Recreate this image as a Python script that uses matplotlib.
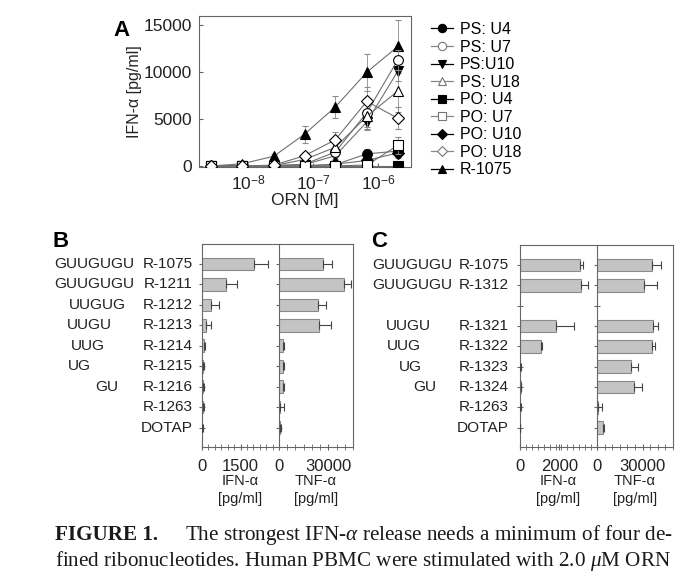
import numpy as np
import matplotlib
matplotlib.use("Agg")
import matplotlib.pyplot as plt
from matplotlib.lines import Line2D
from matplotlib.ticker import MultipleLocator, FixedLocator, NullLocator

plt.rcParams['font.family'] = ['Liberation Sans', 'DejaVu Sans']
plt.rcParams['mathtext.fontset'] = 'custom'
plt.rcParams['mathtext.rm'] = 'Liberation Sans'
plt.rcParams['mathtext.it'] = 'Liberation Serif:italic'
plt.rcParams['mathtext.bf'] = 'Liberation Sans:bold'

W, H = 699, 579

# ---- panel A data (IFN-alpha vs ORN concentration) ----
conc = [2.7e-9, 8.2e-9, 2.5e-8, 7.4e-8, 2.2e-7, 6.7e-7, 2.0e-6]
names = ['PS: U4', 'PS: U7', 'PS:U10', 'PS: U18', 'PO: U4', 'PO: U7',
         'PO: U10', 'PO: U18', 'R-1075']
ps_u4 = [0, 0, 0, 30, 150, 1300, 1600]
ps_u4_err = [0, 0, 0, 30, 100, 500, 600]
ps_u7 = [0, 0, 50, 200, 1500, 5700, 11300]
ps_u7_err = [0, 0, 30, 100, 500, 1500, 1100]
ps_u10 = [0, 0, 30, 150, 1100, 4700, 10100]
ps_u10_err = [0, 0, 20, 100, 400, 900, 1000]
ps_u18 = [0, 0, 50, 700, 2000, 5300, 8000]
ps_u18_err = [0, 0, 30, 300, 600, 1400, 2200]
po_u4 = [0, 0, 0, 0, 0, 0, 0]
po_u4_err = [0, 0, 0, 0, 0, 0, 0]
po_u7 = [0, 0, 0, 0, 30, 100, 2200]
po_u7_err = [0, 0, 0, 0, 30, 80, 900]
po_u10 = [0, 0, 0, 30, 200, 600, 1400]
po_u10_err = [0, 0, 0, 20, 100, 300, 500]
po_u18 = [0, 0, 100, 1100, 2800, 6900, 5100]
po_u18_err = [0, 0, 50, 400, 800, 1500, 1200]
r1075 = [0, 250, 1050, 3400, 6300, 10000, 12750]
r1075_err = [50, 100, 200, 900, 1200, 2000, 2800]

series = [ps_u4, ps_u7, ps_u10, ps_u18, po_u4, po_u7, po_u10, po_u18, r1075]
errs = [ps_u4_err, ps_u7_err, ps_u10_err, ps_u18_err, po_u4_err, po_u7_err,
        po_u10_err, po_u18_err, r1075_err]
markers = ['o', 'o', 'v', '^', 's', 's', 'D', 'D', '^']
filled = [True, False, True, False, True, False, True, False, True]

# ---- panel B data ----
seq_b = ['GUUGUGU', 'GUUGUGU', 'UUGUG', 'UUGU', 'UUG', 'UG', 'GU', '', '']
ids_b = ['R-1075', 'R-1211', 'R-1212', 'R-1213', 'R-1214', 'R-1215',
         'R-1216', 'R-1263', 'DOTAP']
ifn_b = [2030, 950, 360, 170, 60, 40, 40, 30, 10]
ifn_b_err = [540, 420, 300, 170, 60, 50, 50, 50, 20]
tnf_b = [26800, 39500, 23700, 24300, 2300, 2300, 2300, 800, 800]
tnf_b_err = [5500, 4500, 4700, 7100, 800, 800, 800, 2300, 300]

# ---- panel C data (blank slot between R-1312 and R-1321) ----
seq_c = ['GUUGUGU', 'GUUGUGU', '', 'UUGU', 'UUG', 'UG', 'GU', '', '']
ids_c = ['R-1075', 'R-1312', '', 'R-1321', 'R-1322', 'R-1323', 'R-1324',
         'R-1263', 'DOTAP']
ifn_c = [3050, 3100, np.nan, 1820, 1070, 20, 30, 20, 10]
ifn_c_err = [130, 320, np.nan, 900, 30, 10, 20, 30, 10]
tnf_c = [36300, 31000, np.nan, 37000, 36500, 22400, 24300, 900, 3900]
tnf_c_err = [6000, 8700, np.nan, 3300, 1500, 4800, 5400, 2200, 500]


def box(l, t, r, b):
    return [l / W, 1 - b / H, (r - l) / W, (b - t) / H]


def ftext(x, y, s, **kw):
    fig.text(x / W, 1 - y / H, s, **kw)


fig = plt.figure(figsize=(W / 100, H / 100), dpi=100)
spine_col = '#666666'
txt_col = '#222222'

# ================= panel A =================
ax = fig.add_axes(box(199, 16, 411, 167))
for i in range(len(series)):
    fc = 'black' if filled[i] else 'white'
    ms = 6 if markers[i] == 'D' else 7
    ax.errorbar(conc, series[i], yerr=errs[i], color='#707070', lw=0.8,
                elinewidth=0.6, ecolor='#8a8a8a', capsize=2,
                marker=markers[i], ms=ms, mfc=fc, mec='black', mew=0.8,
                zorder=3 if filled[i] else 4)
ax.set_xscale('log')
ax.set_xlim(1.77e-9, 3.2e-6)
ax.set_ylim(-100, 16000)
ax.xaxis.set_major_locator(FixedLocator([1e-8, 1e-7, 1e-6]))
ax.xaxis.set_minor_locator(NullLocator())
ax.set_xticklabels(['$10^{-8}$', '$10^{-7}$', '$10^{-6}$'])
ax.set_yticks([0, 5000, 10000, 15000])
ax.tick_params(labelsize=12.5, direction='in', length=3, color=spine_col,
               labelcolor=txt_col, pad=5)
for s in ax.spines.values():
    s.set_color(spine_col)
    s.set_linewidth(0.8)
ax.set_ylabel('IFN-α [pg/ml]', fontsize=11.5, color=txt_col, labelpad=1)
ax.set_xlabel('ORN [M]', fontsize=12.5, color=txt_col, labelpad=0)
ftext(113, 36, 'A', fontsize=16, fontweight='bold')

handles = []
for i in range(len(series)):
    fc = 'black' if filled[i] else 'white'
    lc = 'black' if filled[i] else '#888888'
    handles.append(Line2D([], [], color=lc, lw=0.9, marker=markers[i],
                          ms=6 if markers[i] != 'D' else 5, mfc=fc,
                          mec='black' if filled[i] else '#777777', mew=0.8))
fig.legend(handles, names, loc='upper left', bbox_to_anchor=(431 / W, 1 - 22 / H),
           frameon=False, fontsize=11.5, handlelength=1.4, handletextpad=0.4,
           labelspacing=0.16, borderpad=0, borderaxespad=0)


# ================= panels B and C =================
def bar_panel(pos_i, pos_t, ifn, ifn_err, tnf, tnf_err, ifn_max, ifn_step,
              ifn_lab, tnf_max, tnf_step, tnf_lab):
    axi = fig.add_axes(box(*pos_i))
    axt = fig.add_axes(box(*pos_t))
    rows = np.arange(len(ifn))
    for a, v, e, mx, st, lab in ((axi, ifn, ifn_err, ifn_max, ifn_step, ifn_lab),
                                 (axt, tnf, tnf_err, tnf_max, tnf_step, tnf_lab)):
        v = np.array(v, dtype=float)
        e = np.array(e, dtype=float)
        ok = ~np.isnan(v)
        a.barh(rows[ok], v[ok], height=0.62, color='#c4c4c4',
               edgecolor='#8a8a8a', lw=0.8, zorder=2)
        a.errorbar(v[ok], rows[ok], xerr=[np.zeros(ok.sum()), e[ok]], fmt='none',
                   ecolor='#444444', elinewidth=0.8, capsize=3, capthick=0.8,
                   zorder=3)
        a.set_xlim(0, mx)
        a.set_ylim(len(ifn) - 0.05, -0.98)
        a.set_xticks([0, lab])
        a.xaxis.set_minor_locator(MultipleLocator(st))
        a.set_yticks(rows)
        a.set_yticklabels([])
        a.tick_params(axis='both', which='both', direction='inout', color=spine_col,
                      labelsize=12, labelcolor=txt_col)
        a.tick_params(axis='x', which='major', length=5, pad=6)
        a.tick_params(axis='x', which='minor', length=4)
        a.tick_params(axis='y', length=5)
        for s in a.spines.values():
            s.set_color(spine_col)
            s.set_linewidth(0.8)
    axi.spines['right'].set_visible(False)
    return axi, axt


axi_b, axt_b = bar_panel((202, 244, 279, 447), (279, 244, 353, 447),
                         ifn_b, ifn_b_err, tnf_b, tnf_b_err,
                         3000, 250, 1500, 45000, 5000, 30000)
axi_c, axt_c = bar_panel((520, 245, 597, 447), (597, 245, 673, 447),
                         ifn_c, ifn_c_err, tnf_c, tnf_c_err,
                         3900, 300, 2000, 50000, 5000, 30000)

# row labels (sequence + id)
seq_x_b = [54, 54, 69, 67, 71, 68, 95, 0, 0]
seq_x_c = [372, 372, 0, 386, 387, 399, 413, 0, 0]
for axi, seqs, ids, sx, idx in ((axi_b, seq_b, ids_b, seq_x_b, 193),
                                (axi_c, seq_c, ids_c, seq_x_c, 509)):
    for i in range(len(ids)):
        yy = axi.transData.transform((0, i))[1]
        ypx = H - yy
        if seqs[i]:
            ftext(sx[i], ypx, seqs[i], fontsize=11.1, ha='left', va='center',
                  color=txt_col)
        if ids[i]:
            ftext(idx, ypx, ids[i], fontsize=11.1, ha='right', va='center',
                  color=txt_col)

for cx in (240, 316, 558, 635):
    ftext(cx, 481, 'IFN-α' if cx in (240, 558) else 'TNF-α', fontsize=10.5,
          ha='center', va='center', color=txt_col)
    ftext(cx, 499, '[pg/ml]', fontsize=10.5, ha='center', va='center',
          color=txt_col)

ftext(52, 247, 'B', fontsize=16, fontweight='bold')
ftext(371, 247, 'C', fontsize=16, fontweight='bold')

# caption
cap_kw = dict(fontfamily='Liberation Serif', fontsize=15.2, va='baseline',
              color='#1a1a1a')
ftext(55, 540, 'FIGURE 1.', fontweight='bold', ha='left', **cap_kw)
ftext(673, 540, r'The strongest IFN-$\alpha$ release needs a minimum of four de-',
      ha='right', **cap_kw)
ftext(55, 566, r'fined ribonucleotides. Human PBMC were stimulated with 2.0 $\mu$M ORN',
      ha='left', **cap_kw)

fig.savefig('out.png', dpi=100)
